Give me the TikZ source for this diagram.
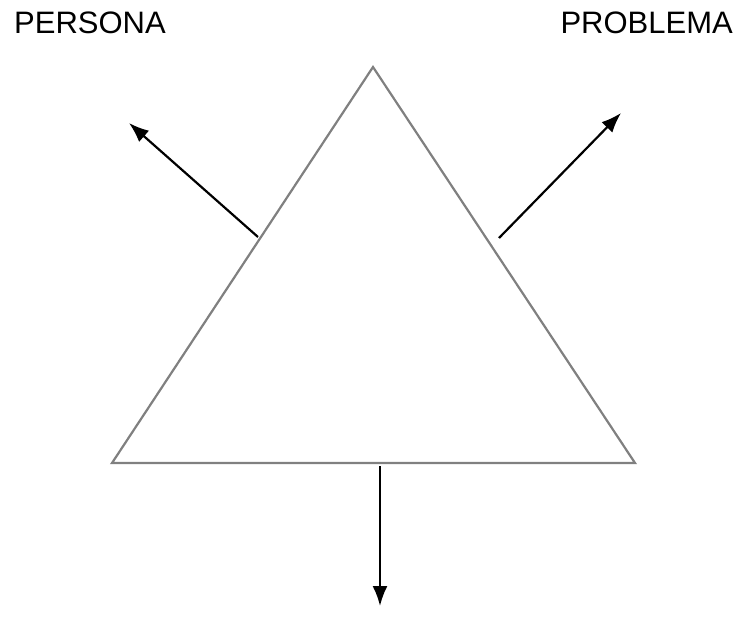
\documentclass[tikz,border=0pt]{standalone}
\usepackage{fontspec}
\setmainfont{Liberation Sans}
\usetikzlibrary{arrows.meta}
\tikzset{side/.style={draw=black!50,line width=2.2pt},
  out arrow/.style={-{Latex[length=20pt,width=15pt]},line width=2.2pt},
  label text/.style={font=\fontsize{31}{36}\selectfont,inner sep=0pt}}

\begin{document}
\begin{tikzpicture}[x=1pt,y=-1pt]
\useasboundingbox (0,0) rectangle (738,622);
% triangle
\coordinate (top) at (373,67);
\coordinate (bl) at (112,463);
\coordinate (br) at (635,463);
\draw[side] (top)--(bl)--(br)--cycle;
% arrows
\coordinate (ls) at (258,237);
\coordinate (lt) at (129,123);
\coordinate (rs) at (499,238);
\coordinate (rt) at (621,113);
\coordinate (bs) at (380,466);
\coordinate (bt) at (380,606);
\draw[out arrow] (ls)--(lt);
\draw[out arrow] (rs)--(rt);
\draw[out arrow] (bs)--(bt);
% labels
\node[label text,anchor=north west] (persona) at (14,12) {PERSONA};
\node[label text,anchor=north east] (problema) at (733,12) {PROBLEMA};
\end{tikzpicture}
\end{document}
